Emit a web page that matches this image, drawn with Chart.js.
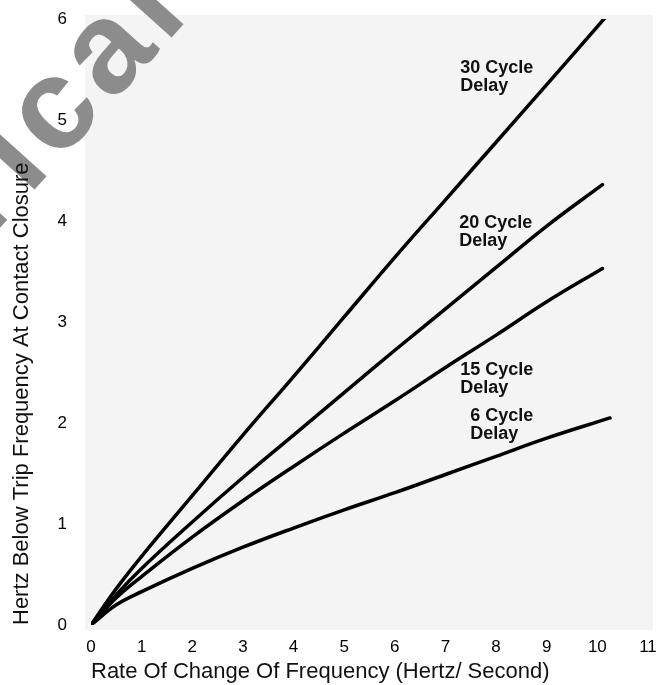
<!DOCTYPE html>
<html>
<head>
<meta charset="utf-8">
<script src="https://cdn.jsdelivr.net/npm/chart.js@4.4.0/dist/chart.umd.min.js"></script>
<style>
  html, body { margin: 0; padding: 0; background: #fff; }
  #wrap { width: 656px; height: 685px; position: relative; }
</style>
</head>
<body>
<div id="wrap"><canvas id="delayChart"></canvas></div>
<script>
// 1. Data (x = rate Hz/s, y = Hz below trip)
const cycle30X = [0, 0.5, 1, 2, 3, 4, 5, 6, 7, 8, 9, 10.2];
const cycle30Y = [0, 0.36, 0.68, 1.28, 1.88, 2.46, 3.05, 3.64, 4.21, 4.78, 5.35, 6.04];

const cycle20X = [0, 0.5, 1, 2, 3, 4, 5, 6, 7, 8, 9, 10.1];
const cycle20Y = [0, 0.3, 0.56, 1.02, 1.46, 1.88, 2.3, 2.72, 3.13, 3.54, 3.95, 4.36];

const cycle15X = [0, 0.5, 1, 2, 3, 4, 5, 6, 7, 8, 9, 10.1];
const cycle15Y = [0, 0.27, 0.48, 0.87, 1.23, 1.57, 1.9, 2.22, 2.55, 2.87, 3.2, 3.53];

const cycle6X = [0, 0.5, 1, 2, 3, 4, 5, 6, 7, 8, 9, 10.25];
const cycle6Y = [0, 0.2, 0.33, 0.56, 0.77, 0.96, 1.14, 1.31, 1.49, 1.67, 1.85, 2.05];

// curve labels, anchored in data units (left edge, first line centre)
const curveNames = ['30 Cycle', '20 Cycle', '15 Cycle', '6 Cycle'];
const curveLabelX = [7.29, 7.27, 7.29, 7.49];
const curveLabelY = [5.51, 3.98, 2.52, 2.07];

const xTitle = 'Rate Of Change Of Frequency (Hertz/ Second)';
const yTitle = 'Hertz Below Trip Frequency At Contact Closure';

const FONT = '"Liberation Sans", Arial, Helvetica, sans-serif';

function pts(xs, ys) {
    return xs.map((x, i) => ({ x: x, y: ys[i] }));
}

function curve(xs, ys) {
    return {
        data: pts(xs, ys),
        borderColor: '#000',
        borderWidth: 3.5,
        pointRadius: 0,
        fill: false,
        tension: 0.4,
        borderCapStyle: 'round',
        borderJoinStyle: 'round'
    };
}

// 2. Paper, speckle tint and the diagonal watermark behind everything
const paperPlugin = {
    id: 'paper',
    beforeDraw(chart) {
        const c = chart.ctx;
        const a = chart.chartArea;
        c.save();
        c.fillStyle = '#fff';
        c.fillRect(0, 0, chart.width, chart.height);
        c.fillStyle = '#f4f4f4';
        c.fillRect(a.left - 6, a.top - 4, a.right - a.left + 11, a.bottom - a.top + 9);

        // watermark, placed by the centre of its second "c"
        const em = 130, sp = 8;
        const wm = 'Electrical';
        c.font = 'bold ' + em + 'px ' + FONT;
        c.fillStyle = '#8c8c8c';
        c.textBaseline = 'alphabetic';
        const pos = [];
        let run = 0;
        for (const ch of wm) { pos.push(run); run += c.measureText(ch).width + sp; }
        const shift = pos[7] + c.measureText('c').width / 2;
        c.translate(57, 114);
        c.rotate(-48 * Math.PI / 180);
        for (let i = 0; i < wm.length; i++) {
            c.fillText(wm[i], pos[i] - shift, 0.26 * em);
        }
        c.restore();
    }
};

const labelPlugin = {
    id: 'curveLabels',
    afterDatasetsDraw(chart) {
        const c = chart.ctx;
        const sx = chart.scales.x, sy = chart.scales.y;
        c.save();
        c.fillStyle = '#111';
        c.font = 'bold 18px ' + FONT;
        c.textAlign = 'left';
        c.textBaseline = 'middle';
        curveNames.forEach((name, i) => {
            const px = sx.getPixelForValue(curveLabelX[i]);
            const py = sy.getPixelForValue(curveLabelY[i]);
            c.fillText(name, px, py);
            c.fillText('Delay', px, py + 18);
        });
        c.restore();
    }
};

// 3. Chart
const ctx = document.getElementById('delayChart').getContext('2d');
const delayChart = new Chart(ctx, {
    type: 'line',
    data: {
        datasets: [
            curve(cycle30X, cycle30Y),
            curve(cycle20X, cycle20Y),
            curve(cycle15X, cycle15Y),
            curve(cycle6X, cycle6Y)
        ]
    },
    options: {
        responsive: true,
        maintainAspectRatio: false,
        animation: false,
        layout: { padding: { left: 0, right: 8, top: 19, bottom: 0 } },
        scales: {
            x: {
                type: 'linear',
                min: 0,
                max: 11,
                grid: { display: false, drawTicks: false },
                border: { display: false },
                ticks: { stepSize: 1, padding: 12, color: '#000', font: { family: FONT, size: 17 } },
                title: {
                    display: true, text: xTitle, align: 'start', color: '#111',
                    font: { family: FONT, size: 22 }, padding: { top: 0, bottom: 0 }
                },
                afterFit(s) { s.height = 60; s.paddingLeft = 0; s.paddingRight = 0; }
            },
            y: {
                min: 0,
                max: 6,
                grid: { display: false, drawTicks: false },
                border: { display: false },
                ticks: { stepSize: 1, padding: 24, color: '#000', font: { family: FONT, size: 17 } },
                title: {
                    display: true, text: yTitle, align: 'start', color: '#111',
                    font: { family: FONT, size: 22 }, padding: { top: 9, bottom: 0 }
                },
                afterFit(s) { s.width = 91; s.paddingTop = 0; s.paddingBottom = 0; }
            }
        },
        plugins: { legend: { display: false }, tooltip: { enabled: false } }
    },
    plugins: [paperPlugin, labelPlugin]
});
</script>
</body>
</html>
